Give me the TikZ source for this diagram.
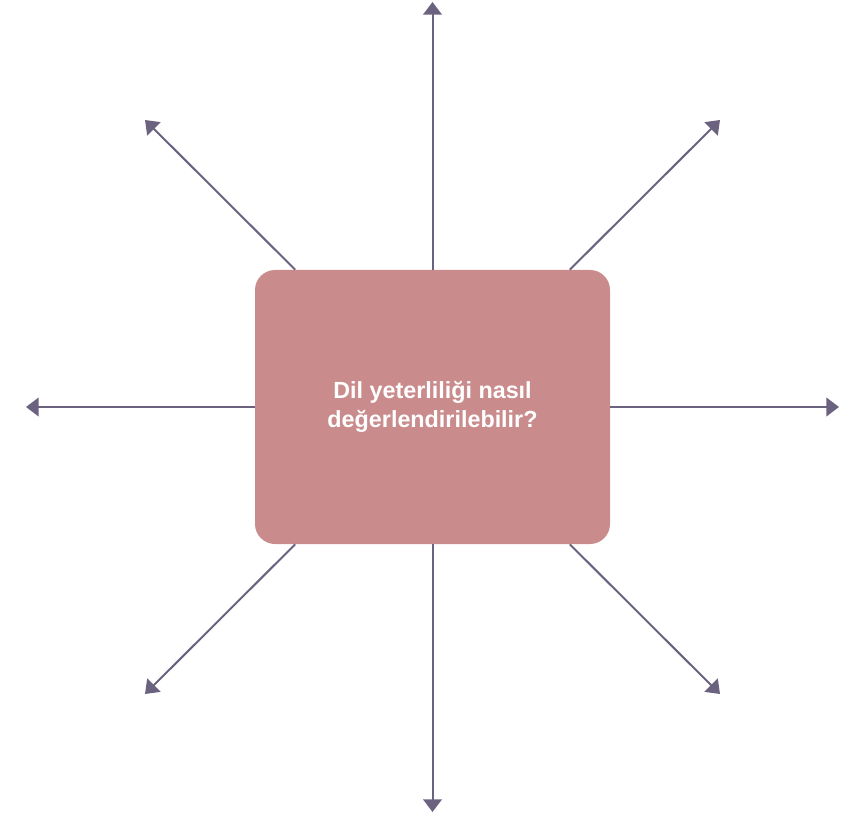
\documentclass[tikz,border=0pt]{standalone}
\usepackage{fontspec}
\setmainfont{Liberation Sans}
\usetikzlibrary{arrows.meta}
\definecolor{boxfill}{HTML}{C98B8C}
\definecolor{arrowcol}{HTML}{6B6280}
\tikzset{
  px/.style={x=0.75pt,y=-0.75pt},
  centerbox/.style={draw=none, fill=boxfill, rounded corners=15pt, minimum width=266.25pt, minimum height=205.5pt, inner sep=0pt, align=center, text=white, font=\bfseries\fontsize{17.5}{22}\selectfont},
  ray/.style={draw=arrowcol, line width=1.5pt, -{Triangle[width=14pt,length=9.5pt]}}
}
\begin{document}
\begin{tikzpicture}[px]
\useasboundingbox (0,0) rectangle (849,816);
\coordinate (tn) at (432.5,2);
\coordinate (ts) at (432.5,812);
\coordinate (tw) at (26,407);
\coordinate (te) at (839,407);
\coordinate (tnw) at (145,120);
\coordinate (tne) at (720,120);
\coordinate (tsw) at (145,694);
\coordinate (tse) at (720,694);
\node[centerbox] (box) at (432.5,407) {Dil yeterliliği nasıl\\değerlendirilebilir?};
\foreach \t in {tn,ts,tw,te,tnw,tne,tsw,tse}
  \draw[ray] (box) -- (\t);
\end{tikzpicture}
\end{document}
